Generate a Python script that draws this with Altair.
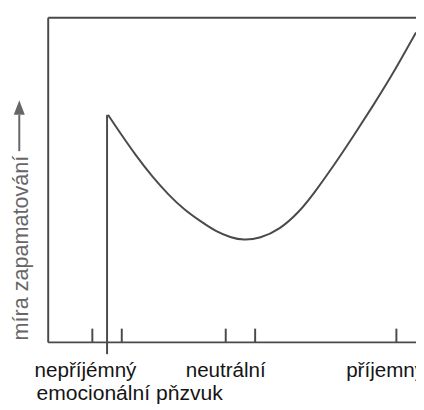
import altair as alt
import pandas as pd

# curve (x: stimulus axis, y: memory measure)
curve_x = [61, 73, 89, 106, 123, 139, 156, 171, 186, 199, 216, 236, 256, 271, 291, 311, 331, 351, 375]
curve_y = [232, 214, 191, 169, 150, 135, 123, 113, 107, 104, 106, 115, 133, 152, 180, 210, 241, 273, 316]

tick_x = [45, 75, 181, 211, 355]
tick_len = 14

start_x = 60
start_bottom = -12

cat_labels = ["nepříjémný", "neutrální", "příjemný"]
cat_x = [38, 181, 344]
cat_y = -35

x_title = "emocionální pňzvuk"
y_title = "míra zapamatování"

XMAX, YMAX = 375, 331

xs = alt.Scale(domain=[0, XMAX], nice=False, zero=False)
ys = alt.Scale(domain=[0, YMAX], nice=False, zero=False)
LINE = "#4a4a4a"

curve_df = pd.DataFrame({"x": curve_x, "y": curve_y})
frame_df = pd.DataFrame({
    "x": [0, 0, 0], "x2": [XMAX, 0, XMAX],
    "y": [YMAX, 0, 0], "y2": [YMAX, YMAX, 0],
})
tick_df = pd.DataFrame({"x": tick_x, "y": [0] * len(tick_x), "y2": [tick_len] * len(tick_x)})
start_df = pd.DataFrame({"x": [start_x], "y": [start_bottom], "y2": [curve_y[0]]})
lab_df = pd.DataFrame({"x": cat_x, "y": [cat_y] * 3, "t": cat_labels})
xt_df = pd.DataFrame({"x": [-12], "y": [-59], "t": [x_title]})
yt_df = pd.DataFrame({"x": [-21], "y": [2], "t": [y_title]})
arrow_df = pd.DataFrame({"x": [-29.5], "y": [195], "y2": [232]})
head_df = pd.DataFrame({"x": [-29.5], "y": [239.5]})

X = lambda f="x": alt.X(f"{f}:Q", scale=xs, axis=None)
Y = lambda f="y": alt.Y(f"{f}:Q", scale=ys, axis=None)

frame = alt.Chart(frame_df).mark_rule(color=LINE, strokeWidth=2).encode(
    x=X(), x2="x2:Q", y=Y(), y2="y2:Q")
ticks = alt.Chart(tick_df).mark_rule(color=LINE, strokeWidth=2).encode(
    x=X(), y=Y(), y2="y2:Q")
start = alt.Chart(start_df).mark_rule(color=LINE, strokeWidth=2).encode(
    x=X(), y=Y(), y2="y2:Q")
curve = alt.Chart(curve_df).mark_line(color=LINE, strokeWidth=2, interpolate="basis").encode(
    x=X(), y=Y())
labels = alt.Chart(lab_df).mark_text(font="Liberation Sans", fontSize=21, color="#151515",
                                     align="center", baseline="alphabetic").encode(
    x=X(), y=Y(), text="t:N")
xtitle = alt.Chart(xt_df).mark_text(font="Liberation Sans", fontSize=21.5, color="#151515",
                                    align="left", baseline="alphabetic").encode(
    x=X(), y=Y(), text="t:N")
ytitle = alt.Chart(yt_df).mark_text(font="Liberation Sans", fontSize=22, color="#666666",
                                    align="left", baseline="alphabetic", angle=270).encode(
    x=X(), y=Y(), text="t:N")
arrow = alt.Chart(arrow_df).mark_rule(color="#666666", strokeWidth=2).encode(
    x=X(), y=Y(), y2="y2:Q")
head = alt.Chart(head_df).mark_point(shape="M0,-1L0.75,1L-0.75,1Z", size=225, filled=True,
                                     color="#666666", opacity=1).encode(x=X(), y=Y())

chart = alt.layer(frame, ticks, start, curve, labels, xtitle, ytitle, arrow, head).properties(
    width=XMAX, height=YMAX,
    autosize=alt.AutoSizeParams(type="none"),
    padding={"left": 41, "top": 6, "right": 0, "bottom": 65},
).configure_view(stroke=None)

chart.save("out.html", embed_options={"renderer": "svg", "actions": False})
